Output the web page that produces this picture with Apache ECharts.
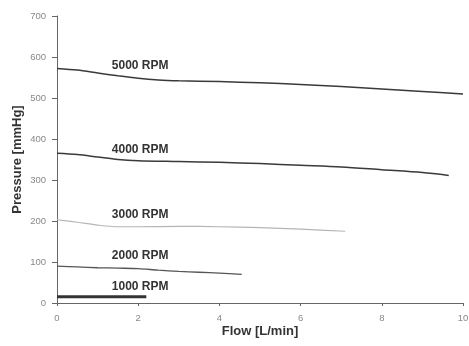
<!DOCTYPE html>
<html>
<head>
<meta charset="utf-8">
<script src="https://cdn.jsdelivr.net/npm/echarts@6/dist/echarts.min.js"></script>
<style>
  html, body { margin: 0; padding: 0; background: #fff; }
  #chart { width: 469px; height: 346px; }
</style>
</head>
<body>
<div id="chart"></div>
<script>
// flow [L/min] vs pressure [mmHg]
const rpm5000 = [[0, 572], [0.5, 568], [1, 561], [1.5, 554], [2, 548], [2.5, 544], [3, 542], [4, 540], [5, 537], [6, 533], [7, 528], [8, 522], [9, 516], [10, 510]]
const rpm4000 = [[0, 365], [0.5, 362], [1, 356], [1.5, 350], [2, 347], [3, 345], [4, 343], [5, 340], [6, 336], [7, 332], [8, 325], [9, 318], [9.65, 311]]
const rpm3000 = [[0, 203], [0.5, 197], [1, 190], [1.5, 186], [2, 186], [3, 187], [4, 186], [5, 184], [6, 180], [7.1, 175]]
const rpm2000 = [[0, 90], [0.5, 88], [1, 86], [1.5, 85], [2, 84], [2.5, 80], [3, 77], [3.5, 75], [4, 73], [4.55, 70]]
const rpm1000 = [[0, 15], [2.2, 15]]
const seriesNames = ['5000 RPM', '4000 RPM', '3000 RPM', '2000 RPM', '1000 RPM']

const chart = echarts.init(document.getElementById('chart'))

const lineStyles = [
  { color: '#3a3a3a', width: 1.5 },
  { color: '#3a3a3a', width: 1.5 },
  { color: '#b5b5b5', width: 1.2 },
  { color: '#555', width: 1.3 },
  { color: '#333', width: 3 }
]
// where each curve's name sits (data coords)
const labelAt = [[1.35, 580], [1.35, 373], [1.35, 215], [1.35, 115], [1.35, 41]]

const datasets = [rpm5000, rpm4000, rpm3000, rpm2000, rpm1000]

chart.setOption({
  backgroundColor: '#fff',
  animation: false,
  grid: { left: 57, right: 6, top: 16, bottom: 43, outerBoundsMode: 'none' },
  xAxis: {
    type: 'value',
    min: 0,
    max: 10,
    interval: 2,
    name: 'Flow [L/min]',
    nameLocation: 'middle',
    nameGap: 22,
    nameMoveOverlap: false,
    nameTextStyle: { fontFamily: 'Liberation Sans', fontWeight: 'bold', fontSize: 13, color: '#333' },
    axisLine: { lineStyle: { color: '#666', width: 1 } },
    axisTick: { show: true, length: 3, lineStyle: { color: '#666' } },
    axisLabel: { fontFamily: 'Liberation Sans', fontSize: 9.5, color: '#888', margin: 10 },
    splitLine: { show: false }
  },
  yAxis: {
    type: 'value',
    min: 0,
    max: 700,
    interval: 100,
    name: 'Pressure [mmHg]',
    nameLocation: 'middle',
    nameGap: 33,
    nameMoveOverlap: false,
    nameTextStyle: { fontFamily: 'Liberation Sans', fontWeight: 'bold', fontSize: 13, color: '#333' },
    axisLine: { show: true, lineStyle: { color: '#666', width: 1 } },
    axisTick: { show: true, length: 5, lineStyle: { color: '#666' } },
    axisLabel: { fontFamily: 'Liberation Sans', fontSize: 9.5, color: '#888', margin: 11 },
    splitLine: { show: false }
  },
  series: datasets.map((d, i) => ({
    name: seriesNames[i],
    type: 'line',
    data: d,
    symbol: 'none',
    smooth: 0.3,
    lineStyle: lineStyles[i],
    markPoint: {
      symbol: 'circle',
      symbolSize: 0,
      silent: true,
      data: [{ coord: labelAt[i] }],
      label: {
        show: true,
        position: 'right',
        distance: 0,
        formatter: seriesNames[i],
        fontFamily: 'Liberation Sans',
        fontWeight: 'bold',
        fontSize: 12,
        color: '#333'
      }
    }
  }))
})
</script>
</body>
</html>
